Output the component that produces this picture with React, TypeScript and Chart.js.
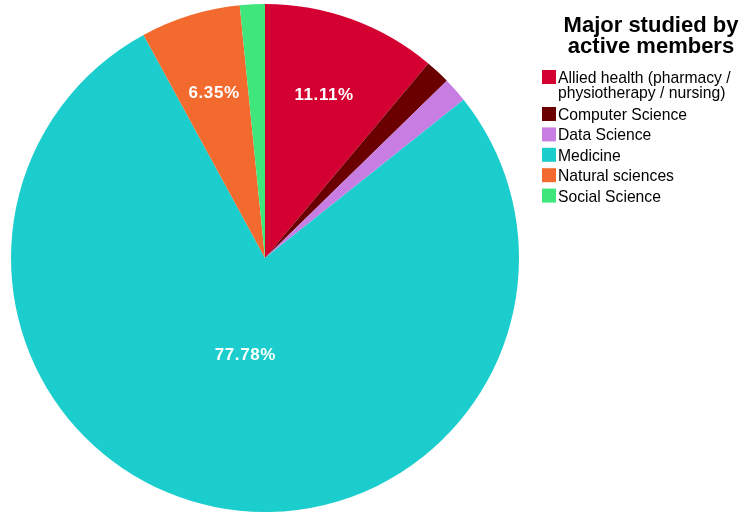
import React, { useEffect, useRef } from "react";
import { Chart, registerables } from "chart.js";

Chart.register(...registerables);

const categories = [
  "Allied health (pharmacy / physiotherapy / nursing)",
  "Computer Science",
  "Data Science",
  "Medicine",
  "Natural sciences",
  "Social Science",
];
const legendLines = [
  ["Allied health (pharmacy /", "physiotherapy / nursing)"],
  ["Computer Science"],
  ["Data Science"],
  ["Medicine"],
  ["Natural sciences"],
  ["Social Science"],
];
const counts = [7, 1, 1, 49, 4, 1];
const colors = ["#D50032", "#6B0000", "#C87DE3", "#1CCDCD", "#F26A2E", "#3FE67B"];
const titleLines = ["Major studied by", "active members"];

const FONT = "'Liberation Sans', Arial, sans-serif";

const pctLabels = {
  id: "pctLabels",
  afterDatasetsDraw(chart: any) {
    const ctx = chart.ctx;
    const meta = chart.getDatasetMeta(0);
    const data = chart.data.datasets[0].data as number[];
    const total = data.reduce((a, b) => a + b, 0);
    ctx.save();
    ctx.fillStyle = "#ffffff";
    ctx.font = `bold 17px ${FONT}`;
    try { (ctx as any).letterSpacing = "0.6px"; } catch (e) {}
    ctx.textAlign = "center";
    ctx.textBaseline = "middle";
    meta.data.forEach((arc: any, i: number) => {
      const pct = (data[i] / total) * 100;
      if (pct < 5) return;
      const p = arc.getProps(["x", "y", "startAngle", "endAngle", "outerRadius"], true);
      const mid = (p.startAngle + p.endAngle) / 2;
      const rf = pct > 50 ? 0.39 : 0.68;
      const x = p.x + Math.cos(mid) * p.outerRadius * rf;
      const y = p.y + Math.sin(mid) * p.outerRadius * rf;
      ctx.fillText(pct.toFixed(2) + "%", x, y);
    });
    ctx.restore();
  },
};

const sideLegend = {
  id: "sideLegend",
  afterDraw(chart: any) {
    const ctx = chart.ctx;
    ctx.save();
    ctx.fillStyle = "#000000";
    ctx.font = `bold 22px ${FONT}`;
    ctx.textAlign = "center";
    ctx.textBaseline = "alphabetic";
    titleLines.forEach((t, i) => ctx.fillText(t, 651, 32 + i * 21));
    ctx.font = `15.7px ${FONT}`;
    ctx.textAlign = "left";
    let y = 83;
    legendLines.forEach((lines, i) => {
      ctx.fillStyle = colors[i];
      ctx.fillRect(542, y - 13, 14, 14);
      ctx.fillStyle = "#000000";
      lines.forEach((l, j) => ctx.fillText(l, 558, y + j * 14.5));
      y += (lines.length - 1) * 14.5 + (lines.length > 1 ? 22.5 : 20.4);
    });
    ctx.restore();
  },
};

export default function App() {
  const ref = useRef<HTMLCanvasElement>(null);
  useEffect(() => {
    if (!ref.current) return;
    const chart = new Chart(ref.current, {
      type: "pie",
      data: {
        labels: categories,
        datasets: [
          {
            data: counts,
            backgroundColor: colors,
            borderWidth: 0,
            hoverOffset: 0,
            offset: 0,
          },
        ],
      },
      options: {
        responsive: false,
        animation: false,
        layout: { padding: { left: 11, right: 224, top: 4, bottom: 0 } },
        plugins: {
          legend: { display: false },
          tooltip: { enabled: false },
          title: { display: false },
        },
      },
      plugins: [pctLabels, sideLegend],
    });
    return () => chart.destroy();
  }, []);
  return (
    <div style={{ position: "absolute", left: 0, top: 0, width: 743, height: 512, background: "#fff" }}>
      <canvas ref={ref} width={743} height={512} style={{ width: 743, height: 512 }} />
    </div>
  );
}
